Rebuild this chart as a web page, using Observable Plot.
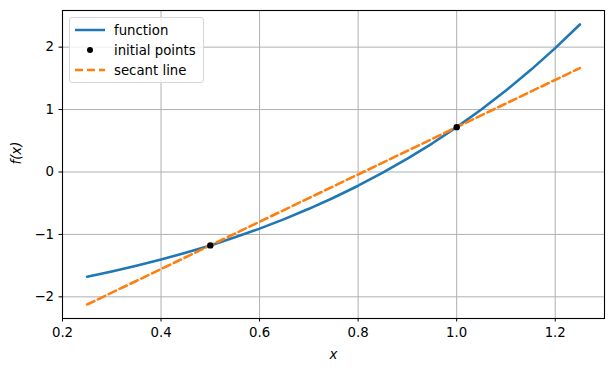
<!DOCTYPE html>
<html><head><meta charset="utf-8">
<script src="https://cdn.jsdelivr.net/npm/d3@7"></script>
<script src="https://cdn.jsdelivr.net/npm/@observablehq/plot@0.6"></script>
<style>
body{margin:0;background:#fff;font-family:"DejaVu Sans",sans-serif;}
#wrap{position:relative;width:614px;height:371px;}
#legend{position:absolute;left:69px;top:17px;width:135px;height:66px;border:1px solid #d6d6d6;border-radius:3px;background:rgba(255,255,255,0.8);box-sizing:border-box;font-size:13.3px;color:#000;}
.row{position:absolute;left:0;height:20px;display:flex;align-items:center;}
.row svg{margin-left:5px;}
.row span{margin-left:9px;}
</style></head>
<body><div id="wrap"><div id="legend">
<div class="row" style="top:2px"><svg width="30" height="10"><line x1="0" y1="5" x2="30" y2="5" stroke="#1f77b4" stroke-width="2.5"/></svg><span>function</span></div>
<div class="row" style="top:22px"><svg width="30" height="10"><circle cx="15" cy="5" r="3" fill="#000"/></svg><span>initial points</span></div>
<div class="row" style="top:42px"><svg width="30" height="10"><line x1="0" y1="5" x2="30" y2="5" stroke="#ff7f0e" stroke-width="2.5" stroke-dasharray="8,4"/></svg><span>secant line</span></div>
</div></div>
<script>
const fx = [0.25,0.30,0.35,0.40,0.45,0.50,0.55,0.60,0.65,0.70,0.75,0.80,0.85,0.90,0.95,1.00,1.05,1.10,1.15,1.20,1.25];
const fy = [-1.679,-1.595,-1.503,-1.403,-1.294,-1.176,-1.047,-0.907,-0.755,-0.590,-0.412,-0.220,-0.011,0.214,0.456,0.718,1.001,1.305,1.632,1.984,2.363];
const ptX = [0.5, 1.0];
const ptY = [-1.176, 0.718];
const secX = [0.25, 1.25];
const secY = [-2.123, 1.665];
const xTicks = [0.2,0.4,0.6,0.8,1.0,1.2];
const yTicks = [-2,-1,0,1,2];

const func = fx.map((x,i)=>({x, y: fy[i]}));
const pts = ptX.map((x,i)=>({x, y: ptY[i]}));
const sec = secX.map((x,i)=>({x, y: secY[i]}));
const yFmt = d => d < 0 ? "\u2212" + Math.abs(d) : String(d);

const chart = Plot.plot({
  width: 614, height: 371,
  marginLeft: 62, marginRight: 10, marginTop: 10, marginBottom: 53,
  style: {fontFamily: "DejaVu Sans", fontSize: "13.3px", color: "#000", background: "#fff"},
  x: {domain: [0.2, 1.3], label: null},
  y: {domain: [-2.347, 2.587], label: null},
  marks: [
    Plot.gridX(xTicks, {stroke: "#b0b0b0", strokeOpacity: 1, strokeWidth: 1}),
    Plot.gridY(yTicks, {stroke: "#b0b0b0", strokeOpacity: 1, strokeWidth: 1}),
    Plot.axisX({ticks: xTicks, tickFormat: d3.format(".1f"), tickSize: 3.5, tickPadding: 6, fontSize: 13.3, label: null}),
    Plot.axisY({ticks: yTicks, tickFormat: yFmt, tickSize: 3.5, tickPadding: 5, fontSize: 13.3, label: null}),
    Plot.line(func, {x: "x", y: "y", stroke: "#1f77b4", strokeWidth: 2.6}),
    Plot.line(sec, {x: "x", y: "y", stroke: "#ff7f0e", strokeWidth: 2.6, strokeDasharray: "8,4"}),
    Plot.dot(pts, {x: "x", y: "y", r: 3.2, fill: "#000", stroke: null}),
    Plot.frame({stroke: "#000", strokeWidth: 1.1}),
    Plot.text(["x"], {frameAnchor: "bottom", dy: 31, fontStyle: "italic", fontSize: 13.3, lineAnchor: "top"}),
    Plot.text(["f(x)"], {frameAnchor: "left", dx: -46, rotate: -90, fontStyle: "italic", fontSize: 13.3})
  ]
});
document.getElementById("wrap").prepend(chart);
chart.style.position = "absolute"; chart.style.left = "0"; chart.style.top = "0";
</script></body></html>
